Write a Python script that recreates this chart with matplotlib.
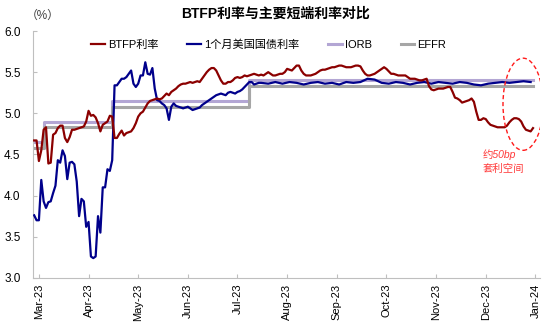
"""BTFP rate vs. main short-end rates (Mar-2023 .. Jan-2024)."""

import matplotlib
matplotlib.use("Agg")
import matplotlib.pyplot as plt
from matplotlib.patches import Ellipse
import numpy as np

plt.rcParams["font.family"] = ["Liberation Sans", "Noto Sans CJK SC", "DejaVu Sans"]

# x axis is a trading-day index (category axis), labelled every 21 days
month_labels = ["Mar-23", "Apr-23", "May-23", "Jun-23", "Jul-23", "Aug-23",
                "Sep-23", "Oct-23", "Nov-23", "Dec-23", "Jan-24"]

# BTFP rate, one value per trading day (day 0..211)
btfp_rate = [
    4.67, 4.67, 4.42, 4.55, 4.80, 4.83, 4.39, 4.40, 4.74, 4.76, 4.82, 4.85,
    4.85, 4.70, 4.65, 4.71, 4.80, 4.80, 4.81, 4.82, 4.83, 4.84, 4.90, 5.03,
    4.97, 4.98, 4.95, 4.88, 4.78, 4.86, 4.88, 4.90, 4.97, 4.96, 4.70, 4.70,
    4.75, 4.79, 4.73, 4.76, 4.77, 4.78, 4.82, 4.88, 4.96, 5.00, 5.02, 5.07,
    5.12, 5.15, 5.16, 5.17, 5.18, 5.17, 5.18, 5.21, 5.24, 5.22, 5.26, 5.28,
    5.30, 5.33, 5.35, 5.36, 5.36, 5.37, 5.38, 5.37, 5.38, 5.39, 5.38, 5.42,
    5.46, 5.50, 5.53, 5.55, 5.55, 5.52, 5.46, 5.40, 5.36, 5.36, 5.38, 5.38,
    5.40, 5.43, 5.44, 5.43, 5.44, 5.46, 5.45, 5.46, 5.47, 5.48, 5.47, 5.46,
    5.47, 5.46, 5.48, 5.50, 5.48, 5.46, 5.46, 5.47, 5.48, 5.48, 5.50, 5.54,
    5.53, 5.52, 5.55, 5.58, 5.58, 5.52, 5.48, 5.46, 5.46, 5.46, 5.47, 5.48,
    5.50, 5.52, 5.53, 5.53, 5.54, 5.55, 5.56, 5.56, 5.57, 5.58, 5.58, 5.57,
    5.56, 5.56, 5.56, 5.57, 5.58, 5.58, 5.57, 5.52, 5.48, 5.46, 5.46, 5.47,
    5.48, 5.50, 5.52, 5.54, 5.56, 5.54, 5.51, 5.48, 5.48, 5.47, 5.46, 5.46,
    5.46, 5.46, 5.44, 5.42, 5.42, 5.42, 5.41, 5.40, 5.40, 5.41, 5.42, 5.33,
    5.29, 5.28, 5.29, 5.30, 5.30, 5.30, 5.31, 5.32, 5.32, 5.26, 5.19, 5.18,
    5.16, 5.13, 5.14, 5.15, 5.16, 5.18, 5.14, 5.02, 4.92, 4.92, 4.94, 4.93,
    4.89, 4.86, 4.85, 4.84, 4.83, 4.83, 4.83, 4.83, 4.85, 4.89, 4.92, 4.94,
    4.94, 4.93, 4.90, 4.84, 4.80, 4.79, 4.78, 4.82,
]

# 1-month Treasury bill yield: daily until day 95, then sampled every 3 days
tbill_day = list(range(0, 96)) + list(range(96, 212, 3))
tbill_rate = [
    3.76, 3.70, 3.70, 4.19, 3.93, 3.85, 3.92, 3.93, 4.03, 4.12, 4.43, 4.40,
    4.55, 4.48, 4.20, 4.40, 4.41, 4.38, 4.17, 3.75, 3.96, 3.93, 3.62, 3.68,
    3.26, 3.24, 3.26, 3.75, 3.55, 4.10, 4.10, 4.32, 4.30, 4.43, 5.34, 5.34,
    5.38, 5.42, 5.42, 5.44, 5.48, 5.52, 5.36, 5.32, 5.36, 5.46, 5.46, 5.62,
    5.48, 5.47, 5.55, 5.30, 5.16, 5.15, 5.12, 5.10, 5.06, 4.92, 5.08, 5.12,
    5.09, 5.08, 5.07, 5.06, 5.07, 5.08, 5.06, 5.04, 5.05, 5.06, 5.07, 5.10,
    5.12, 5.14, 5.16, 5.18, 5.20, 5.22, 5.23, 5.24, 5.23, 5.22, 5.25, 5.26,
    5.25, 5.24, 5.26, 5.27, 5.29, 5.32, 5.35, 5.38, 5.38, 5.35, 5.36, 5.37,
    # every 3rd day from day 96
    5.37, 5.36, 5.38, 5.36, 5.38, 5.37, 5.35, 5.37, 5.38, 5.36, 5.37, 5.35,
    5.38, 5.37, 5.38, 5.42, 5.41, 5.37, 5.36, 5.38, 5.37, 5.35, 5.37, 5.38,
    5.36, 5.38, 5.37, 5.36, 5.38, 5.37, 5.35, 5.34, 5.36, 5.37, 5.38, 5.37,
    5.38, 5.39, 5.38,
]

# policy rates: day of change and new level
policy_day = [0, 4, 33, 91, 211]
iorb_rate = [4.65, 4.90, 5.15, 5.40, 5.40]
effr_rate = [4.58, 4.83, 5.08, 5.33, 5.33]

fig = plt.figure(figsize=(5.5, 3.3), dpi=100)
ax = fig.add_axes([0.06, 0.158, 0.922, 0.748])

ax.plot(policy_day, iorb_rate, drawstyle="steps-post", color="#b3a6d4", lw=2.2, label="IORB", zorder=2)
ax.plot(policy_day, effr_rate, drawstyle="steps-post", color="#a6a6a6", lw=2.2, label="EFFR", zorder=2)
ax.plot(tbill_day, tbill_rate, color="#00008b", lw=1.6, label="1个月美国国债利率", zorder=3)
ax.plot(np.arange(len(btfp_rate)), btfp_rate, color="#8b0000", lw=1.6, label="BTFP利率", zorder=4)

ax.set_ylim(3.0, 6.0)
ax.set_yticks(np.arange(3.0, 6.01, 0.5))
ax.set_yticklabels([f"{v:.1f}" for v in np.arange(3.0, 6.01, 0.5)])
ax.set_xlim(-0.5, 214)
ax.set_xticks(np.arange(len(month_labels)) * 21 + 2)
ax.set_xticklabels(month_labels, rotation=90)
ax.tick_params(axis="both", colors="#bfbfbf", labelcolor="black", length=3, width=0.8,
               direction="in")
ax.tick_params(axis="y", labelsize=8.5, pad=9)
ax.tick_params(axis="x", labelsize=8, pad=4)

for side in ["top", "right"]:
    ax.spines[side].set_visible(False)
for side in ["left", "bottom"]:
    ax.spines[side].set_color("#bfbfbf")

handles, labels = ax.get_legend_handles_labels()
order = [3, 2, 0, 1]
ax.legend([handles[i] for i in order], [labels[i] for i in order], ncol=4, frameon=False,
          loc="center", bbox_to_anchor=(0.465, 0.945), fontsize=8, handlelength=1.2,
          handletextpad=0.3, columnspacing=2.6)

# annotation: the ~50bp arbitrage window
ax.add_patch(Ellipse((206.8, 5.11), 17, 1.12, fill=False, ec="#ff1a1a", ls=(0, (3, 2)), lw=1.0, zorder=5))
ax.text(189.5, 4.50, "约50bp", color="#ff3b3b", fontsize=7.5, va="center", ha="left", style="italic")
ax.text(189.5, 4.32, "套利空间", color="#ff3b3b", fontsize=7.5, va="center", ha="left", style="italic")

fig.text(0.5, 1 - 14 / 330, "BTFP利率与主要短端利率对比", ha="center", va="center",
         fontsize=10, fontweight="bold")
fig.text(42.5 / 550, 1 - 16 / 330, "（%）", ha="center", va="center", fontsize=8.5, color="#404040")

fig.savefig("out.png", dpi=100)
